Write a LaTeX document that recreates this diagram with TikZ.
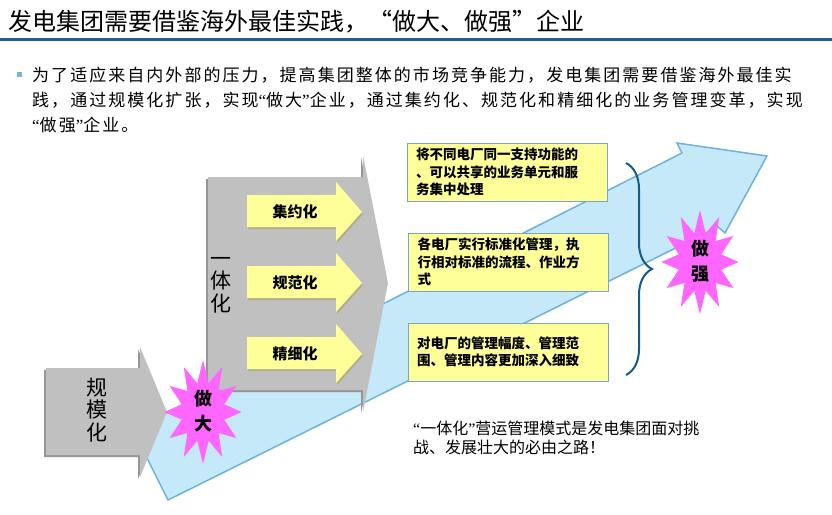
\documentclass[tikz,border=0pt]{standalone}
\usepackage{fontspec}
\setmainfont{Noto Sans CJK SC}
\newfontfamily\bodyfont[LetterSpace=12]{Noto Sans CJK SC}
\newfontfamily\qfont{Liberation Serif}
\newcommand\oqt{{\qfont “}}
\newcommand\cqt{{\qfont ”}}
\usetikzlibrary{shapes.geometric,decorations.pathreplacing}
\definecolor{bandfill}{RGB}{198,233,250}
\definecolor{bandline}{RGB}{108,178,220}
\definecolor{grayfill}{RGB}{192,192,192}
\definecolor{grayshade}{RGB}{150,150,150}
\definecolor{yel}{RGB}{255,255,153}
\definecolor{yshade}{RGB}{175,175,140}
\definecolor{boxline}{RGB}{120,165,200}
\definecolor{pinkstar}{RGB}{255,102,255}
\definecolor{titleblue}{RGB}{31,93,153}
\definecolor{bracecol}{RGB}{22,90,135}
\definecolor{bulletblue}{RGB}{120,180,220}
\tikzset{
  band/.style={fill=bandfill, draw=bandline, line width=1.5},
  grayshape/.style={fill=grayfill},
  grayshadow/.style={fill=grayshade},
  yarrow/.style={fill=yel},
  yshadow/.style={fill=yshade},
  ybox/.style={draw=boxline, fill=yel, line width=1, minimum width=200, minimum height=58,
    text width=182, align=left, inner xsep=9, inner ysep=0,
    font=\fontsize{13.5}{17.5}\selectfont\bfseries},
  arrowlabel/.style={inner sep=0, font=\fontsize{15}{15}\selectfont\bfseries},
  vlabel/.style={inner sep=0, align=center, font=\fontsize{21}{22.5}\selectfont},
  burstshape/.style={star, star points=12, star point ratio=1.75, minimum size=104, fill=pinkstar,
    inner sep=0, xscale=0.74, transform shape},
  bursttext/.style={inner sep=0, align=center, font=\fontsize{18}{25}\selectfont\bfseries},
  bodyline/.style={anchor=west, inner sep=0, font=\bodyfont\fontsize{17}{17}\selectfont},
  noteline/.style={anchor=west, inner sep=0, font=\fontsize{16}{16}\selectfont},
}
\begin{document}
\begin{tikzpicture}[x=1pt,y=-1pt]
\useasboundingbox (0,0) rectangle (832,514);
\fill[white] (0,0) rectangle (832,514);

% title
\node[anchor=west, inner sep=0, font=\fontsize{24}{24}\selectfont] (title) at (8,22)
  {发电集团需要借鉴海外最佳实践，“做大、做强”企业};
\draw[titleblue, line width=3] (0,39) -- (832,39);

% bullet text
\fill[bulletblue] (17,72) rectangle (22,77);
\node[bodyline] (b1) at (32,75) {为了适应来自内外部的压力，提高集团整体的市场竞争能力，发电集团需要借鉴海外最佳实};
\node[bodyline] (b2) at (32,100) {践，通过规模化扩张，实现\oqt 做大\cqt 企业，通过集约化、规范化和精细化的业务管理变革，实现};
\node[bodyline] (b3) at (32,125) {\oqt 做强\cqt 企业。};

% big light blue arrow
\draw[band] (133,430) -- (682,153) -- (677,143) -- (767,156) -- (725,233) -- (718,227) -- (168,500) -- cycle;

% gray arrow: 规模化
\fill[grayshadow] (44,370) -- (138,370) -- (138,349) -- (165,414) -- (138,479) -- (138,457) -- (44,457) -- cycle;
\fill[grayshape] (46,368) -- (140,368) -- (140,347) -- (167,412) -- (140,477) -- (140,455) -- (46,455) -- cycle;
\node[vlabel] (gm) at (97,410) {规\\模\\化};

% gray pentagon: 一体化
\fill[grayshadow] (206,179) -- (361,179) -- (361,157) -- (386,285) -- (361,414) -- (361,392) -- (206,392) -- cycle;
\fill[grayshape] (208,177) -- (363,177) -- (363,155) -- (388,283) -- (363,412) -- (363,390) -- (208,390) -- cycle;
\node[vlabel] (yth) at (221,285) {一\\体\\化};

% yellow arrows
\foreach \d/\nm/\txt in {0/jy/集约化, 71/gf/规范化, 142/jx/精细化}{
  \fill[yshadow] (248,197+\d) -- (337,197+\d) -- (337,184+\d) -- (363,214+\d) -- (337,243+\d) -- (337,229+\d) -- (248,229+\d) -- cycle;
  \fill[yarrow] (247,195+\d) -- (336,195+\d) -- (336,182+\d) -- (362,212+\d) -- (336,241+\d) -- (336,227+\d) -- (247,227+\d) -- cycle;
  \node[arrowlabel] (\nm) at (295,212+\d) {\txt};
}

% yellow text boxes
\node[ybox] (box1) at (507,172) {将不同电厂同一支持功能的\\、可以共享的业务单元和服\\务集中处理};
\node[ybox, minimum width=199] (box2) at (508.5,262) {各电厂实行标准化管理，执\\行相对标准的流程、作业方\\式};
\node[ybox] (box3) at (508,352) {对电厂的管理幅度、管理范\\围、管理内容更加深入细致};

% brace
\draw[bracecol, line width=2, decorate, decoration={brace, amplitude=26}] (626,163) -- (626,375);

% stars
\node[burstshape] (zuodastar) at (203,412) {};
\node[bursttext] (zuoda) at (203,411) {做\\大};
\node[burstshape] (zuoqiangstar) at (700,262) {};
\node[bursttext] (zuoqiang) at (700,261) {做\\强};

% bottom note
\node[noteline] (n1) at (413,428) {\oqt 一体化\cqt 营运管理模式是发电集团面对挑};
\node[noteline] (n2) at (413,447) {战、发展壮大的必由之路！};
\end{tikzpicture}
\end{document}
